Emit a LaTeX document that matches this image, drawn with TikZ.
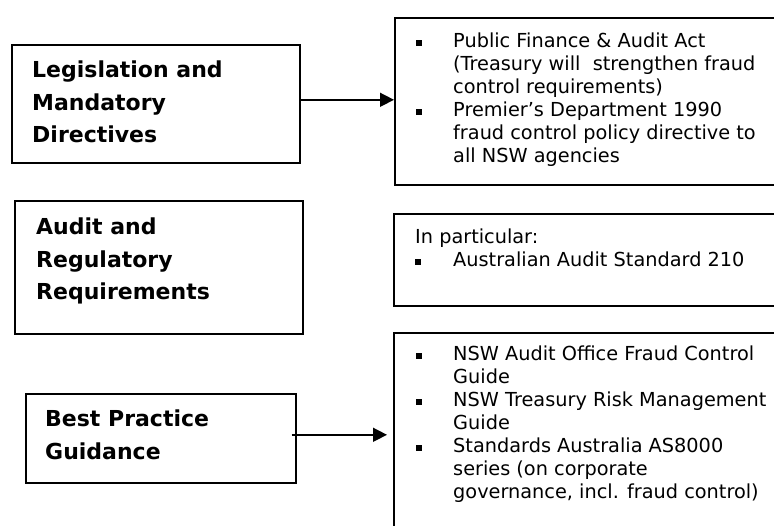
\documentclass[tikz,border=0pt]{standalone}
\usepackage{fontspec}
\setmainfont{DejaVu Sans}
\usetikzlibrary{arrows.meta,positioning}
\tikzstyle{box}=[rectangle, draw=black, line width=1.6pt, inner sep=0pt, anchor=north west]
\tikzstyle{head}=[anchor=north west, inner sep=0pt, align=left, font=\fontsize{22}{32.5}\selectfont\bfseries]
\tikzstyle{annot}=[anchor=north west, inner sep=0pt, align=left, font=\fontsize{19.3}{23}\selectfont]
\tikzstyle{arr}=[line width=1.5pt, -{Triangle[length=14pt,width=14pt]}]
\newcommand{\bul}{\rule[1pt]{5.5pt}{6pt}}

\begin{document}
\begin{tikzpicture}[x=1pt, y=-1pt]
	\clip (0,0) rectangle (774,525);

	% left column
	\node[box, minimum width=288pt, minimum height=118pt] (leg) at (11,44) {};
	\node[box, minimum width=288pt, minimum height=133pt] (aud) at (14,200) {};
	\node[box, minimum width=270pt, minimum height=89pt] (best) at (25,393) {};

	\node[head, below right=11pt and 21pt of leg.north west] (legtext)
		{\begin{tabular}{@{}l@{}}Legislation and\\Mandatory\\Directives\end{tabular}};
	\node[head, below right=12pt and 22pt of aud.north west] (audtext)
		{\begin{tabular}{@{}l@{}}Audit and\\Regulatory\\Requirements\end{tabular}};
	\node[head, below right=11pt and 20pt of best.north west] (besttext)
		{\begin{tabular}{@{}l@{}}Best Practice\\Guidance\end{tabular}};

	% right column (runs off the page)
	\node[box, minimum width=420pt, minimum height=167pt] (acts) at (394,17) {};
	\node[box, minimum width=420pt, minimum height=92pt] (std) at (393,213) {};
	\node[box, minimum width=420pt, minimum height=230pt] (guide) at (393,332) {};

	\node[annot, below right=14pt and 22pt of acts.north west] (actstext)
		{\begin{tabular}{@{}p{37pt}@{}l@{}}
		\bul & Public Finance \& Audit Act\\
		 & (Treasury will~ strengthen fraud\\
		 & control requirements)\\
		\bul & Premier’s Department 1990\\
		 & fraud control policy directive to\\
		 & all NSW agencies
		\end{tabular}};
	\node[annot, below right=14pt and 22pt of std.north west] (stdtext)
		{\begin{tabular}{@{}p{38pt}@{}l@{}}
		\multicolumn{2}{@{}l@{}}{In particular:}\\
		\bul & Australian Audit Standard 210
		\end{tabular}};
	\node[annot, below right=12pt and 23pt of guide.north west] (guidetext)
		{\begin{tabular}{@{}p{37pt}@{}l@{}}
		\bul & NSW Audit Office Fraud Control\\
		 & Guide\\
		\bul & NSW Treasury Risk Management\\
		 & Guide\\
		\bul & Standards Australia AS8000\\
		 & series (on corporate\\
		 & governance, incl. fraud control)
		\end{tabular}};

	% arrows
	\draw[arr] ([yshift=4pt]leg.east) -- ([yshift=4pt]leg.east -| acts.west);
	\draw[arr, shorten >=6pt] ([xshift=-5pt, yshift=3.5pt]best.east) -- ([yshift=3.5pt]best.east -| guide.west);

\end{tikzpicture}
\end{document}
